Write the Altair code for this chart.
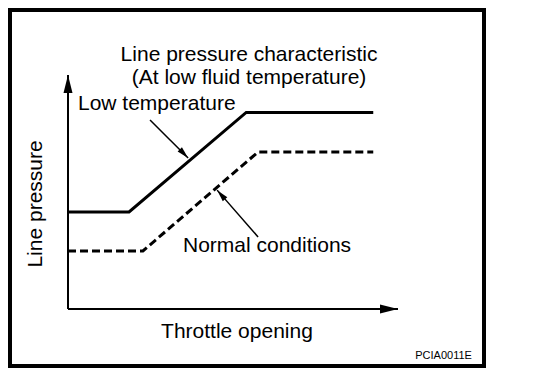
import altair as alt
import pandas as pd

# ---- data (throttle opening, relative line pressure) ----
throttle_low = [0, 18.5, 54, 92.5]
pressure_low = [41.5, 41.5, 84, 84]
throttle_normal = [0, 22.7, 57.6, 92.5]
pressure_normal = [24.8, 24.8, 67.1, 67.1]

# annotation arrows (start -> tip), in data units
ann_x = [24.85, 57.6]
ann_y = [80.8, 30.8]
ann_x2 = [36.4, 45.2]
ann_y2 = [64.5, 50.8]
ann_angle = [46, 229]

# axis arrows
axis_x = [0, 0]
axis_y = [0, 0]
axis_x2 = [100, 0]
axis_y2 = [0, 100]
axis_angle = [0, 270]

# title lines
labels = ["Line pressure characteristic", "(At low fluid temperature)"]
label_x = [54.85, 54.85]
label_y = [106.0, 96.2]

XDOM = [-17.576, 126.06]
YDOM = [-24.36, 127.78]
W, H = 474, 356

xs = alt.Scale(domain=XDOM, nice=False, zero=False)
ys = alt.Scale(domain=YDOM, nice=False, zero=False)

def X(f):
    return alt.X(f, type="quantitative", scale=xs, axis=None)

def Y(f):
    return alt.Y(f, type="quantitative", scale=ys, axis=None)

low_df = pd.DataFrame({"t": throttle_low, "p": pressure_low})
norm_df = pd.DataFrame({"t": throttle_normal, "p": pressure_normal})
ann_df = pd.DataFrame({"x": ann_x, "y": ann_y, "x2": ann_x2, "y2": ann_y2, "a": ann_angle})
axis_df = pd.DataFrame({"x": axis_x, "y": axis_y, "x2": axis_x2, "y2": axis_y2, "a": axis_angle})

ARROW = "M0,0 L-2,-0.5 L-2,0.5 Z"

low_line = alt.Chart(low_df).mark_line(color="black", strokeWidth=3, strokeCap="butt").encode(
    x=X("t"), y=Y("p"), order="t:Q")
norm_line = alt.Chart(norm_df).mark_line(color="black", strokeWidth=3, strokeDash=[8, 4], strokeCap="butt").encode(
    x=X("t"), y=Y("p"), order="t:Q")

axis_rules = alt.Chart(axis_df).mark_rule(color="black", strokeWidth=2).encode(
    x=X("x"), y=Y("y"), x2="x2", y2="y2")
axis_heads = alt.Chart(axis_df).mark_point(shape=ARROW, filled=True, color="black", size=324, opacity=1).encode(
    x=X("x2"), y=Y("y2"), angle=alt.Angle("a:Q", scale=None))

ann_rules = alt.Chart(ann_df).mark_rule(color="black", strokeWidth=1.5).encode(
    x=X("x"), y=Y("y"), x2="x2", y2="y2")
ann_heads = alt.Chart(ann_df).mark_point(shape=ARROW, filled=True, color="black", size=144, opacity=1).encode(
    x=X("x2"), y=Y("y2"), angle=alt.Angle("a:Q", scale=None))

FONT = "Liberation Sans"

title_txt = alt.Chart(pd.DataFrame({"x": label_x, "y": label_y, "s": labels})).mark_text(
    font=FONT, fontSize=21, align="center", baseline="alphabetic", color="black").encode(
    x=X("x"), y=Y("y"), text="s:N")

def label(text, x, y, align="left", size=21, angle=0, baseline="alphabetic"):
    d = pd.DataFrame({"x": [x], "y": [y], "s": [text]})
    kw = dict(font=FONT, fontSize=size, align=align, baseline=baseline, color="black")
    if angle:
        kw["angle"] = angle
    return alt.Chart(d).mark_text(**kw).encode(x=X("x"), y=Y("y"), text="s:N")

low_lbl = label("Low temperature", 3.03, 85.0)
norm_lbl = label("Normal conditions", 34.85, 24.4)
x_lbl = label("Throttle opening", 51.2, -12.4, align="center")
y_lbl = label("Line pressure", -9.7, 44.9, align="center", angle=270, baseline="middle")
code_lbl = label("PCIA0011E", 122.4, -21.4, align="right", size=11)

chart = alt.layer(
    axis_rules, axis_heads, low_line, norm_line, ann_rules, ann_heads,
    title_txt, low_lbl, norm_lbl, x_lbl, y_lbl, code_lbl
).properties(
    width=W, height=H,
    padding={"left": 2, "top": 2, "right": 2, "bottom": 2},
    background="white",
).configure_view(stroke="black", strokeWidth=4)

chart.save("out.html", embed_options={"renderer": "svg", "actions": False})
